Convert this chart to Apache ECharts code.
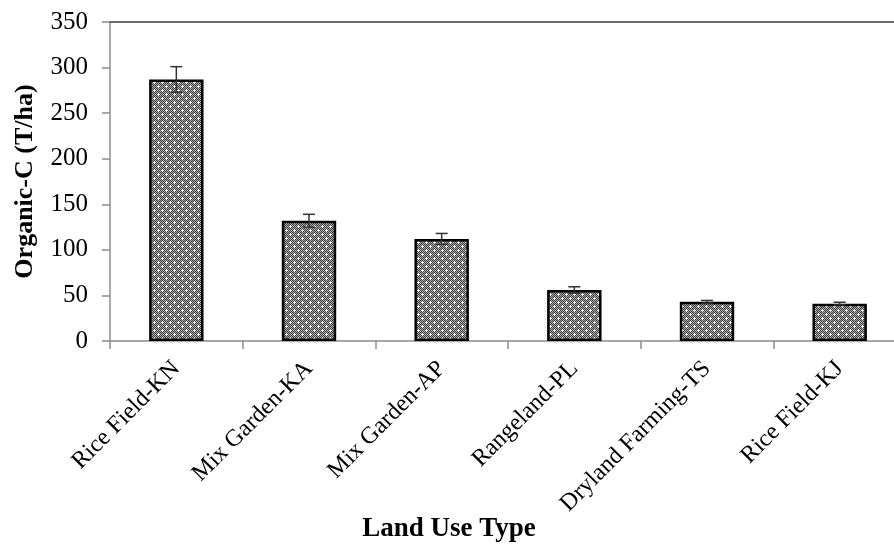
<!DOCTYPE html>
<html>
<head>
<meta charset="utf-8">
<script src="https://cdn.jsdelivr.net/npm/echarts@6/dist/echarts.min.js"></script>
<style>html,body{margin:0;padding:0;background:#fff;}#c{width:894px;height:545px;}</style>
</head>
<body>
<div id="c"></div>
<script>
const categories = ['Rice Field-KN','Mix Garden-KA','Mix Garden-AP','Rangeland-PL','Dryland Farming-TS','Rice Field-KJ'];
const values = [287, 132, 112, 56, 43, 41];
const errors = [14, 7, 6, 3.5, 1.5, 1.5];
const yTicks = [0, 50, 100, 150, 200, 250, 300, 350];

function makePattern() {
  const c = document.createElement('canvas');
  c.width = 8; c.height = 8;
  const g = c.getContext('2d');
  for (let y = 0; y < 8; y++) for (let x = 0; x < 8; x++) {
    g.fillStyle = ((x + y) % 2 === 0) ? '#3a3a3a' : '#b0b0b0';
    g.fillRect(x, y, 1, 1);
  }
  g.fillStyle = '#ffffff';
  const cross = (cx, cy) => {
    g.fillRect(cx, cy, 1, 1);
    g.fillRect(cx - 1, cy, 1, 1); g.fillRect(cx + 1, cy, 1, 1);
    g.fillRect(cx, cy - 1, 1, 1); g.fillRect(cx, cy + 1, 1, 1);
  };
  cross(2, 2); cross(6, 6);
  return c;
}

const chart = echarts.init(document.getElementById('c'));
const serif = '"Liberation Serif", "Times New Roman", serif';
chart.setOption({
  animation: false,
  grid: { left: 110, top: 22, right: -12, bottom: 204, containLabel: false, outerBoundsMode: 'none' },
  xAxis: [{
    type: 'category',
    data: categories,
    name: 'Land Use Type',
    nameLocation: 'middle',
    nameGap: 175,
    nameMoveOverlap: false,
    nameTextStyle: { fontFamily: serif, fontWeight: 'bold', fontSize: 27, color: '#000', padding: [0, 118, 0, 0] },
    axisLine: { lineStyle: { color: '#8c8c8c', width: 1.5 } },
    axisTick: { show: true, length: 8, lineStyle: { color: '#8c8c8c', width: 1.5 } },
    axisLabel: { rotate: 45, margin: 24, fontFamily: serif, fontSize: 24, color: '#000' }
  }, {
    type: 'category',
    data: categories,
    position: 'top',
    axisLine: { show: true, lineStyle: { color: '#3c3c3c', width: 1.5 } },
    axisTick: { show: false },
    axisLabel: { show: false }
  }],
  yAxis: {
    type: 'value',
    min: yTicks[0],
    max: yTicks[yTicks.length - 1],
    interval: 50,
    name: 'Organic-C (T/ha)',
    nameLocation: 'middle',
    nameGap: 72,
    nameMoveOverlap: false,
    nameTextStyle: { fontFamily: serif, fontWeight: 'bold', fontSize: 26, color: '#000' },
    axisLine: { show: true, lineStyle: { color: '#8c8c8c', width: 1.5 } },
    axisTick: { show: true, length: 8, lineStyle: { color: '#8c8c8c', width: 1.5 } },
    axisLabel: { margin: 22, fontFamily: serif, fontSize: 25, color: '#000' },
    splitLine: { show: false }
  },
  series: [{
    type: 'bar',
    data: values,
    barWidth: '41%',
    itemStyle: {
      color: { image: makePattern(), repeat: 'repeat' },
      borderColor: '#000',
      borderWidth: 2.5
    }
  }, {
    type: 'custom',
    data: values.map((v, i) => [i, v - errors[i], v + errors[i]]),
    z: 5,
    renderItem: function (params, api) {
      const x = api.value(0);
      const lo = api.coord([x, api.value(1)]);
      const hi = api.coord([x, api.value(2)]);
      const hw = 6;
      const style = { stroke: '#333', lineWidth: 1.5 };
      return {
        type: 'group',
        children: [
          { type: 'line', shape: { x1: hi[0], y1: hi[1], x2: lo[0], y2: lo[1] }, style: style },
          { type: 'line', shape: { x1: hi[0] - hw, y1: hi[1], x2: hi[0] + hw, y2: hi[1] }, style: style },
          { type: 'line', shape: { x1: lo[0] - hw, y1: lo[1], x2: lo[0] + hw, y2: lo[1] }, style: style }
        ]
      };
    }
  }]
});
</script>
</body>
</html>
